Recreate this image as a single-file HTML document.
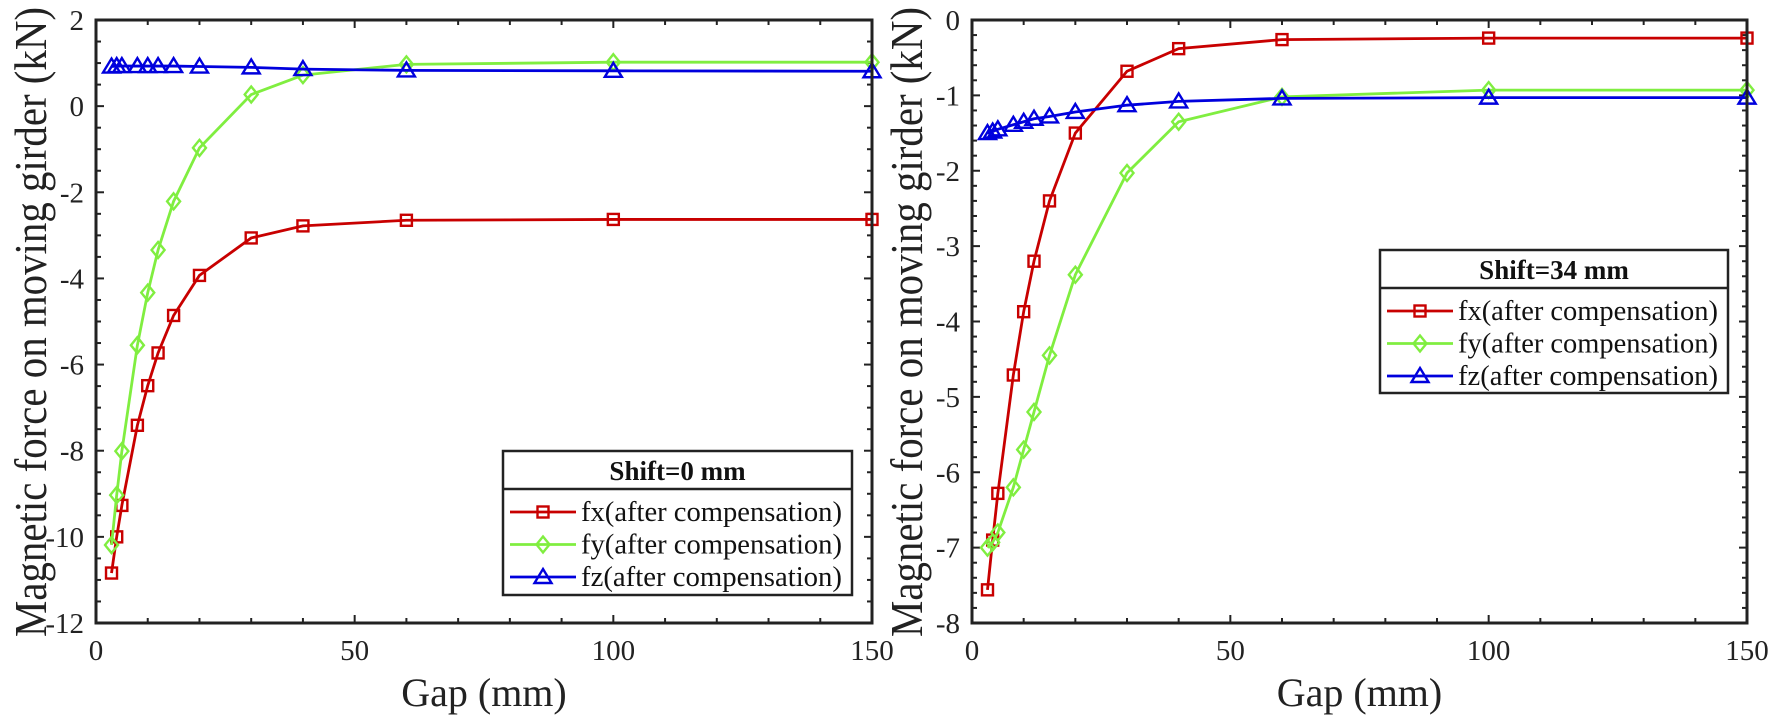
<!DOCTYPE html>
<html><head><meta charset="utf-8"><style>
html,body{margin:0;padding:0;background:#fff;}
svg{display:block;font-family:"Liberation Serif",serif;}
</style></head><body>
<svg id="c" width="1772" height="718" viewBox="0 0 1772 718" xmlns="http://www.w3.org/2000/svg"></svg>
<script>
const gaps = [3,4,5,8,10,12,15,20,30,40,60,100,150];
const leftFx = [-10.84,-10.0,-9.27,-7.41,-6.49,-5.73,-4.86,-3.93,-3.06,-2.78,-2.65,-2.63,-2.63];
const leftFy = [-10.19,-9.03,-8.01,-5.55,-4.33,-3.34,-2.21,-0.97,0.27,0.72,0.97,1.02,1.02];
const leftFz = [0.92,0.93,0.93,0.93,0.93,0.93,0.93,0.92,0.9,0.86,0.83,0.82,0.81];
const rightFx = [-7.56,-6.9,-6.28,-4.71,-3.87,-3.2,-2.4,-1.5,-0.68,-0.38,-0.26,-0.24,-0.24];
const rightFy = [-7.0,-6.93,-6.8,-6.2,-5.7,-5.2,-4.45,-3.38,-2.03,-1.35,-1.02,-0.93,-0.93];
const rightFz = [-1.5,-1.48,-1.45,-1.39,-1.35,-1.31,-1.28,-1.22,-1.13,-1.08,-1.04,-1.03,-1.03];
const xTicks = [0,50,100,150];
const leftYTicks = [2,0,-2,-4,-6,-8,-10,-12];
const rightYTicks = [0,-1,-2,-3,-4,-5,-6,-7,-8];
const seriesNames = ["fx(after compensation)","fy(after compensation)","fz(after compensation)"];
const colors = ["#c80000","#80ee40","#0000dd"];
const markers = ["square","diamond","triangle"];

const NS="http://www.w3.org/2000/svg";
const svg=document.getElementById('c');
function el(tag,attrs,parent){const e=document.createElementNS(NS,tag);for(const k in attrs)e.setAttribute(k,attrs[k]);(parent||svg).appendChild(e);return e;}

function marker(g,type,x,y,color){
  let m;
  if(type==="square") m=el('rect',{x:x-5.5,y:y-5.5,width:11,height:11,fill:'none',stroke:color,'stroke-width':2.4},g);
  else if(type==="diamond") m=el('polygon',{points:`${x},${y-8} ${x+6.5},${y} ${x},${y+8} ${x-6.5},${y}`,fill:'none',stroke:color,'stroke-width':2.4},g);
  else m=el('polygon',{points:`${x},${y-8} ${x+8.5},${y+6} ${x-8.5},${y+6}`,fill:'none',stroke:color,'stroke-width':2.4},g);
  return m;
}

function panel(opt){
  const g=el('g',{});
  
  
  const X=v=>opt.x0+(v-0)/150*(opt.x1-opt.x0);
  const Y=v=>opt.y0+(opt.ymax-v)/(opt.ymax-opt.ymin)*(opt.y1-opt.y0);
  for(let v=0;v<=150;v+=10){
    const major=v%50===0, L=major?8:5;
    const t1=el('line',{x1:X(v),x2:X(v),y1:opt.y1,y2:opt.y1-L,stroke:'#222','stroke-width':2},g);
    
    
    el('line',{x1:X(v),x2:X(v),y1:opt.y0,y2:opt.y0+L,stroke:'#222','stroke-width':2},g);
  }
  const nMinor=Math.round((opt.ymax-opt.ymin)/opt.minor);
  for(let i=0;i<=nMinor;i++){
    const v=opt.ymin+i*opt.minor;
    const major=Math.abs(v/opt.majorStep-Math.round(v/opt.majorStep))<1e-6, L=major?8:5;
    const t=el('line',{x1:opt.x0,x2:opt.x0+L,y1:Y(v),y2:Y(v),stroke:'#222','stroke-width':2},g);
    
    
    el('line',{x1:opt.x1,x2:opt.x1-L,y1:Y(v),y2:Y(v),stroke:'#222','stroke-width':2},g);
  }
  xTicks.forEach(v=>{
    const t=el('text',{x:X(v),y:opt.y1+37,'font-size':29,'text-anchor':'middle',fill:'#222'},g);
    t.textContent=v;
    
    
  });
  opt.yTicks.forEach(v=>{
    const t=el('text',{x:opt.x0-12,y:Y(v)+10,'font-size':29,'text-anchor':'end',fill:'#222'},g);
    t.textContent=v;
    
    
  });
  opt.series.forEach((s,i)=>{
    const sg=el('g',{},g);
    
    
    const pts=gaps.map((gp,j)=>X(gp)+','+Y(s[j])).join(' ');
    const line=el('polyline',{points:pts,fill:'none',stroke:colors[i],'stroke-width':2.8},sg);
    
    
    gaps.forEach((gp,j)=>{
      const m=marker(sg,markers[i],X(gp),Y(s[j]),colors[i]);
      
      
    });
  });
  const fr=el('rect',{x:opt.x0,y:opt.y0,width:opt.x1-opt.x0,height:opt.y1-opt.y0,fill:'none',stroke:'#222','stroke-width':3},g);
  
  
  const xt=el('text',{x:(opt.x0+opt.x1)/2,y:706,'font-size':40,'text-anchor':'middle',fill:'#222'},g);
  xt.textContent='Gap (mm)';
  
  
  const yt=el('text',{x:0,y:0,'font-size':46,'text-anchor':'middle',fill:'#222',textLength:630,lengthAdjust:'spacingAndGlyphs',transform:`translate(${opt.ytx},322) rotate(-90)`},g);
  yt.textContent='Magnetic force on moving girder (kN)';
  
  
  const L=opt.leg;
  const lg=el('g',{},g);
  
  
  el('rect',{x:L.x,y:L.y,width:L.w,height:L.h,fill:'#fff',stroke:'#222','stroke-width':2.5},lg);
  el('line',{x1:L.x,x2:L.x+L.w,y1:L.y+38,y2:L.y+38,stroke:'#222','stroke-width':2.5},lg);
  const ttl=el('text',{x:L.x+L.w/2,y:L.y+29,'font-size':27,'font-weight':'bold','text-anchor':'middle',fill:'#111'},lg);
  ttl.textContent=L.title;
  
  
  seriesNames.forEach((n,i)=>{
    const cy=L.y+61+i*32.5;
    const eg=el('g',{},lg);
    
    
    el('line',{x1:L.x+7,x2:L.x+73,y1:cy,y2:cy,stroke:colors[i],'stroke-width':2.8},eg);
    marker(eg,markers[i],L.x+40,cy,colors[i]);
    const t=el('text',{x:L.x+78,y:cy+9,'font-size':29,fill:'#111',textLength:L.w-88,lengthAdjust:'spacingAndGlyphs'},eg);
    t.textContent=n;
  });
}

panel({name:'left-panel',x0:96,x1:872,y0:20,y1:623,ymax:2,ymin:-12,minor:0.5,majorStep:2,yTicks:leftYTicks,
  series:[leftFx,leftFy,leftFz],ytx:46,leg:{x:503,y:451,w:349,h:144,title:'Shift=0 mm'}});
panel({name:'right-panel',x0:972,x1:1747,y0:20,y1:623,ymax:0,ymin:-8,minor:0.2,majorStep:1,yTicks:rightYTicks,
  series:[rightFx,rightFy,rightFz],ytx:922,leg:{x:1380,y:250,w:348,h:143,title:'Shift=34 mm'}});
</script>
</body></html>
